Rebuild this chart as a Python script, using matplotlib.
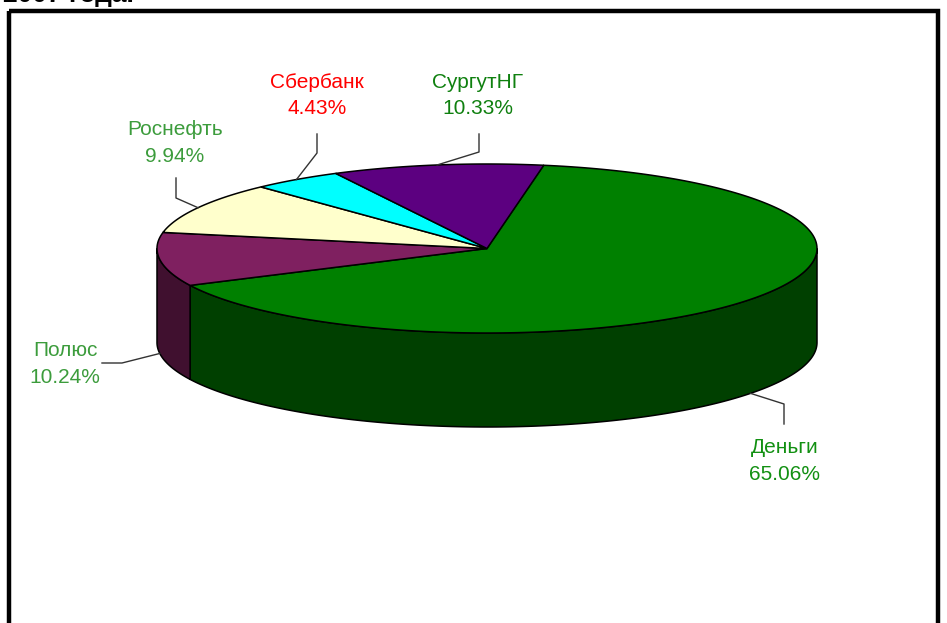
import numpy as np
import matplotlib
matplotlib.use("Agg")
from matplotlib import pyplot as plt
from matplotlib.patches import Rectangle

plt.rcParams['font.family'] = ['Liberation Sans', 'DejaVu Sans']

# data (clockwise from the start angle)
names = ["Деньги", "Полюс", "Роснефть", "Сбербанк", "СургутНГ"]
shares = [65.06, 10.24, 9.94, 4.43, 10.33]
top_colors = ["#008000", "#7f2060", "#ffffcc", "#00ffff", "#5c0080"]
side_colors = ["#004000", "#40102f", "#808066", "#008080", "#2e0040"]
label_colors = ["#129012", "#3c9c3c", "#3c9c3c", "#ff0000", "#0f800f"]

# label layout: text centre, elbow point, end of leader at the text
label_xy = [(785, 461), (65, 364), (175, 143), (317, 95.5), (478, 95.5)]
elbows = [((784, 404), (784, 424)),
          ((122, 363), (102, 363)),
          ((176, 198), (176, 178)),
          ((317, 153), (317, 134)),
          ((479, 152), (479, 134))]

# pie geometry in pixels
cx, cy = 487, 248.5
rx, ry = 330, 84.5
depth = 94
start = 9.9

def pt(t, dz=0.0):
    r = np.radians(t)
    return cx + rx * np.sin(r), cy - ry * np.cos(r) + dz

fig = plt.figure(figsize=(9.47, 6.23), dpi=100)
ax = fig.add_axes([0, 0, 1, 1])
ax.set_xlim(0, 947)
ax.set_ylim(623, 0)
ax.axis('off')

# frame and cut-off title
ax.add_patch(Rectangle((8.5, 11), 929.5, 640, fill=False, lw=3.2, ec='black', zorder=10))
ax.text(3, 2, "2007 года.", fontsize=19, fontweight='bold', ha='left', va='baseline')

angles = start + np.concatenate([[0], np.cumsum(shares)]) * 3.6

# side walls of the front half
for i in range(len(shares)):
    a, b = angles[i], angles[i + 1]
    if a >= 360:
        a, b = a - 360, b - 360
    lo, hi = max(a, 90), min(b, 270)
    if lo >= hi:
        continue
    t = np.linspace(lo, hi, 200)
    xs, ys = pt(t)
    xb, yb = pt(t[::-1], depth)
    ax.fill(np.r_[xs, xb], np.r_[ys, yb], color=side_colors[i], ec='black', lw=1.1, zorder=2)

# top wedges
for i in range(len(shares)):
    t = np.linspace(angles[i], angles[i + 1], 200)
    xs, ys = pt(t)
    ax.fill(np.r_[cx, xs], np.r_[cy, ys], color=top_colors[i], ec='black', lw=1.1, zorder=3)

# labels with leaders
for i, name in enumerate(names):
    mid = ((angles[i] + angles[i + 1]) / 2) % 360
    dz = depth if 90 < mid < 270 else 0
    px, py = pt(mid, dz)
    (ex, ey), (fx, fy) = elbows[i]
    ax.plot([px, ex, fx], [py, ey, fy], color='#333333', lw=1.0, zorder=4)
    tx, ty = label_xy[i]
    ax.text(tx, ty, "%s\n%.2f%%" % (name, shares[i]), color=label_colors[i],
            fontsize=15, ha='center', va='center', linespacing=1.5, zorder=5)

plt.savefig("out.png", dpi=100)
